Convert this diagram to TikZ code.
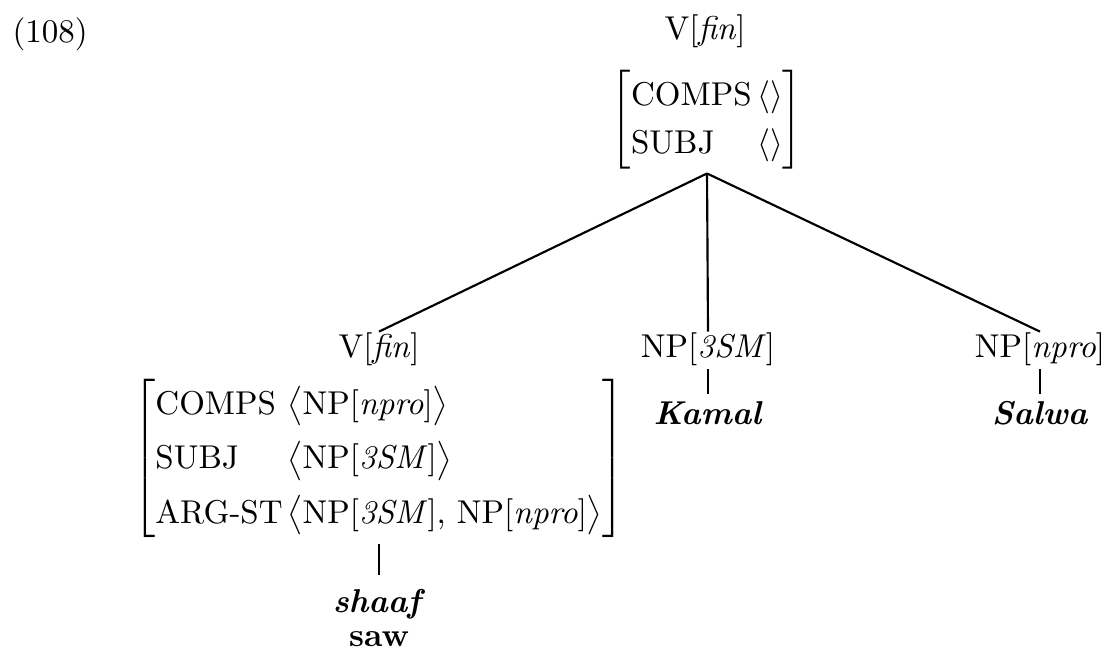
\documentclass[tikz,border=0pt]{standalone}
\usepackage{amsmath}
\tikzset{
  lab/.style={anchor=base, inner sep=0pt},
  avm/.style={inner sep=0pt},
  branch/.style={line width=0.65pt},
  leafline/.style={line width=0.55pt, shorten <=1pt, shorten >=2pt},
}
\begin{document}
\begin{tikzpicture}[x=0.30303pt, y=-0.30303pt]
\useasboundingbox (0,0) rectangle (1107,654);
\node[anchor=base west, inner sep=0pt] (ex) at (12,42) {(108)};
\node[lab] (rootlab) at (705,39) {V[\textit{fin}]};
\node[avm] (rootavm) at (707,120) {$\renewcommand{\arraystretch}{1.2}\left[\begin{array}{@{}l@{\,}l@{}}\mbox{COMPS}&\langle\rangle\\ \mbox{SUBJ}&\langle\rangle\end{array}\right]$};
\coordinate (apex) at ([yshift=-1pt]rootavm.south);
\node[lab] (vfin) at (379,357) {V[\textit{fin}]};
\node[lab] (np1) at (708,357) {NP[\textit{3SM}]};
\node[lab] (np2) at (1040,357) {NP[\textit{npro}]};
\node[lab] (kamal) at (708,424) {\textbf{\textit{Kamal}}};
\node[lab] (salwa) at (1040,424) {\textbf{\textit{Salwa}}};
\node[avm] (vavm) at (379,458) {$\renewcommand{\arraystretch}{1.38}\left[\begin{array}{@{}l@{}l@{}}\mbox{COMPS\ }&\big\langle\mbox{NP[\textit{npro}]}\big\rangle\\ \mbox{SUBJ}&\big\langle\mbox{NP[\textit{3SM}]}\big\rangle\\ \mbox{ARG-ST}&\big\langle\mbox{NP[\textit{3SM}], NP[\textit{npro}]}\big\rangle\end{array}\right]$};
\node[lab] (shaaf) at (379,612) {\textbf{\textit{shaaf}}};
\node[lab] (saw) at (379,646) {\textbf{saw}};
\draw[branch] (apex) -- (vfin.north);
\draw[branch] (apex) -- (np1.north);
\draw[branch] (apex) -- (np2.north);
\draw[leafline] (np1.south) -- (kamal.north);
\draw[leafline] (np2.south) -- (salwa.north);
\draw[leafline] (vavm.south) -- ([yshift=2pt]shaaf.north);
\end{tikzpicture}
\end{document}
